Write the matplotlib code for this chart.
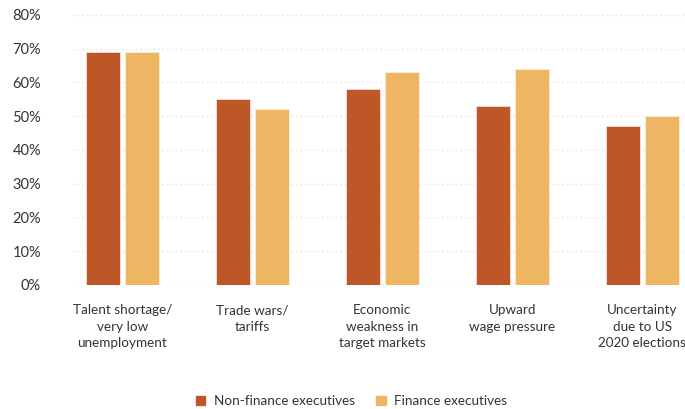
import matplotlib.pyplot as plt
import numpy as np
from matplotlib.patches import Patch

## data
categories = ['Talent shortage/\nvery low\nunemployment', 'Trade wars/\ntariffs',
              'Economic\nweakness in\ntarget markets', 'Upward\nwage pressure',
              'Uncertainty\ndue to US\n2020 elections']
non_finance = [69, 55, 58, 53, 47]
finance = [69, 52, 63, 64, 50]
yticks = [0, 10, 20, 30, 40, 50, 60, 70, 80]

c_non = '#BE5727'
c_fin = '#EEB662'
txt = '#333333'

plt.rcParams['font.family'] = ['Lato', 'DejaVu Sans']

fig = plt.figure(figsize=(6.85, 4.09), dpi=100)
ax = fig.add_axes([73/685, 1 - 285/409, 1 - 73/685, (285 - 11.4)/409])

x = np.arange(len(categories))
w = 0.26
ax.bar(x - 0.15, non_finance, w, color=c_non, edgecolor='#f6e0d6', linewidth=0.6, zorder=3)
ax.bar(x + 0.15, finance, w, color=c_fin, edgecolor='#fbeedd', linewidth=0.6, zorder=3)

## axes styling
ax.set_xlim(-0.38, 4.33)
ax.set_ylim(0, 81)
ax.set_yticks(yticks)
ax.set_yticklabels(['%d%%' % v for v in yticks], fontsize=10.5, color=txt)
ax.yaxis.grid(True, color='#e6e6e6', linestyle=(0, (1.2, 2)), linewidth=1.0, zorder=0)
ax.tick_params(axis='y', length=0, pad=23)
ax.set_xticks(x)
ax.set_xticklabels(categories, fontsize=9.7, color=txt, linespacing=1.45)
ax.tick_params(axis='x', length=0, pad=14)
for s in ax.spines.values():
    s.set_visible(False)

## legend
handles = [Patch(color=c_non, label='Non-finance executives'),
           Patch(color=c_fin, label='Finance executives')]
fig.legend(handles=handles, loc='center', bbox_to_anchor=(0.513, 1 - 401/409), ncol=2,
           frameon=False, fontsize=9.7, handlelength=0.7, handleheight=0.7,
           handletextpad=0.6, columnspacing=1.6, labelcolor=txt)

fig.savefig('out.png', dpi=100)
